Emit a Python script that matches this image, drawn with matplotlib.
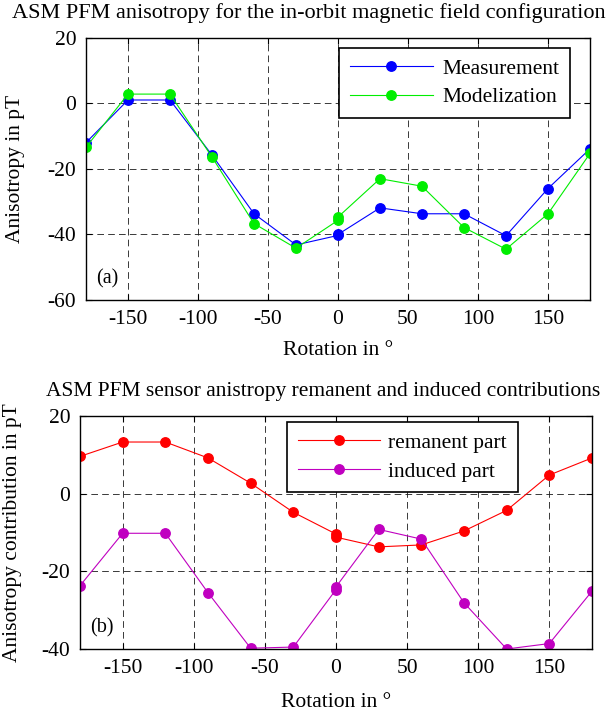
import matplotlib.pyplot as plt

plt.rcParams['font.family'] = 'Liberation Serif'
plt.rcParams['axes.unicode_minus'] = False

# rotation angles (0 appears twice: start and end of the turn)
angles = [-180, -150, -120, -90, -60, -30, 0, 0, 30, 60, 90, 120, 150, 180]

# panel (a): anisotropy in pT
measurement = [-12.0, 1.0, 1.0, -15.8, -33.7, -43.2, -40.3, -40.0, -31.9, -33.7, -33.7, -40.4, -26.0, -13.9]
modelization = [-13.4, 2.8, 2.8, -16.4, -36.7, -44.2, -35.7, -34.7, -23.0, -25.3, -37.9, -44.5, -33.7, -15.3]

# panel (b): remanent / induced contributions in pT
remanent = [9.6, 13.3, 13.3, 9.2, 2.7, -4.8, -10.4, -11.2, -13.7, -13.2, -9.6, -4.3, 4.8, 9.2]
induced = [-23.7, -10.2, -10.2, -25.5, -39.8, -39.5, -24.7, -24.0, -9.2, -11.7, -28.1, -40.0, -38.6, -25.1]

xticks = [-150, -100, -50, 0, 50, 100, 150]
yticks_a = [-60, -40, -20, 0, 20]
yticks_b = [-40, -20, 0, 20]

W, H = 616, 715
fig = plt.figure(figsize=(W / 100, H / 100), dpi=100)
ax1 = fig.add_axes([86 / W, 1 - 300 / H, 504 / W, 262.3 / H])
ax2 = fig.add_axes([80 / W, 1 - 649 / H, 512 / W, 233 / H])


def style(ax, ylim, yticks):
    ax.set_xlim(-180, 180)
    ax.set_ylim(*ylim)
    ax.set_xticks(xticks)
    ax.set_yticks(yticks)
    ax.set_axisbelow(True)
    ax.grid(True, color='0.1', linestyle=(0, (8, 5)), linewidth=0.6)
    ax.tick_params(direction='in', length=4, width=0.8, top=True, right=True,
                   labelsize=15.5, pad=7)
    for sp in ax.spines.values():
        sp.set_linewidth(1.0)


line_kw = dict(marker='o', markersize=6.8, linewidth=0.8)

ax1.plot(angles, measurement, color='#0000ff', label='Measurement', **line_kw)
ax1.plot(angles, modelization, color='#00ee00', label='Modelization', **line_kw)
style(ax1, (-60, 20), yticks_a)
ax1.legend(loc='upper right', bbox_to_anchor=(0.960, 0.961), borderaxespad=0,
           fontsize=15.5, handlelength=3.9, handletextpad=0.4, borderpad=0.5,
           labelspacing=0.4, fancybox=False, framealpha=1, edgecolor='k')
ax1.legend_.get_frame().set_linewidth(1.2)
ax1.text(0.02, 0.08, '(a)', transform=ax1.transAxes, ha='left', va='center', fontsize=14.5)

ax2.plot(angles, remanent, color='#ff0000', label='remanent part', **line_kw)
ax2.plot(angles, induced, color='#c000c0', label='induced part', **line_kw)
style(ax2, (-40, 20), yticks_b)
ax2.legend(loc='upper right', bbox_to_anchor=(0.855, 0.974), borderaxespad=0,
           fontsize=15.5, handlelength=3.8, handletextpad=0.4, borderpad=0.5,
           labelspacing=0.4, fancybox=False, framealpha=1, edgecolor='k')
ax2.legend_.get_frame().set_linewidth(1.2)
ax2.text(0.02, 0.09, '(b)', transform=ax2.transAxes, ha='left', va='center', fontsize=14.5)

# titles and axis labels
fig.text(12 / W, 1 - 18 / H, 'ASM PFM anisotropy for the in-orbit magnetic field configuration',
         ha='left', va='baseline', fontsize=16)
fig.text(46 / W, 1 - 396 / H, 'ASM PFM sensor anistropy remanent and induced contributions',
         ha='left', va='baseline', fontsize=15.5)
fig.text(338 / W, 1 - 355 / H, 'Rotation in °', ha='center', va='baseline', fontsize=15.5)
fig.text(336 / W, 1 - 707 / H, 'Rotation in °', ha='center', va='baseline', fontsize=15.5)
fig.text(16 / W, 1 - 169 / H, 'Anisotropy in pT', rotation=90, ha='center', va='center', fontsize=15.5)
fig.text(13 / W, 1 - 532.5 / H, 'Anisotropy contribution in pT', rotation=90,
         ha='center', va='center', fontsize=15.5)

fig.savefig('out.png', dpi=100)
